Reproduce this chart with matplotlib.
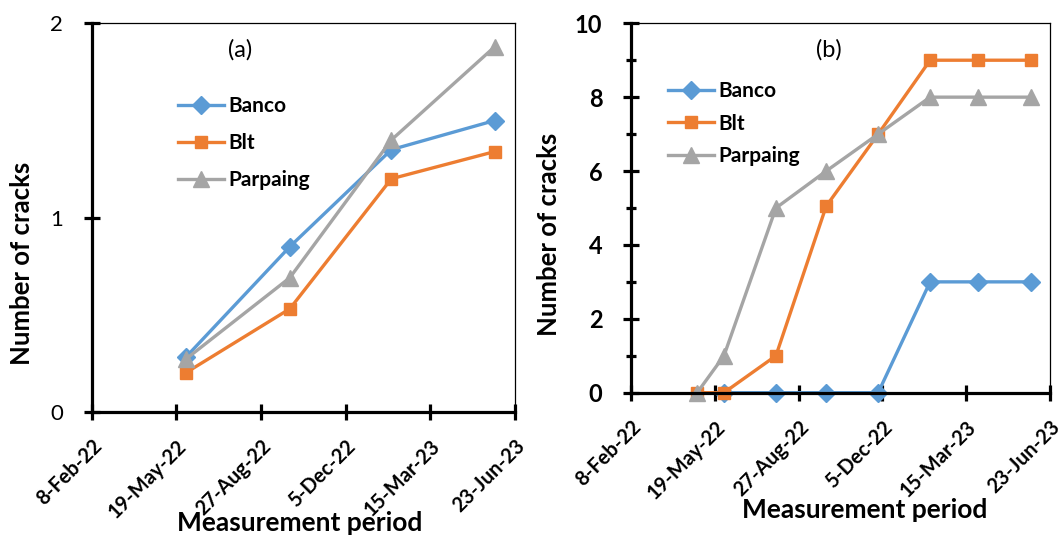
import datetime as dt
import matplotlib
matplotlib.use("Agg")
import matplotlib.pyplot as plt
import matplotlib.dates as mdates
import matplotlib.transforms as mtransforms
from matplotlib.ticker import MultipleLocator, FuncFormatter

plt.rcParams['font.family'] = ['Lato', 'DejaVu Sans']

# panel (a)
dates_a = [dt.date(2022, 5, 30), dt.date(2022, 9, 30), dt.date(2023, 1, 28), dt.date(2023, 5, 30)]
banco_a = [0.28, 0.85, 1.35, 1.50]
blt_a = [0.20, 0.53, 1.20, 1.34]
parpaing_a = [0.27, 0.69, 1.40, 1.88]

# panel (b)
dates_b = [dt.date(2022, 4, 28), dt.date(2022, 5, 30), dt.date(2022, 7, 31), dt.date(2022, 9, 29),
           dt.date(2022, 11, 30), dt.date(2023, 1, 31), dt.date(2023, 3, 29), dt.date(2023, 5, 31)]
banco_b = [None, 0, 0, 0, 0, 3, 3, 3]
blt_b = [0, 0, 1, 5.05, 7, 9, 9, 9]
parpaing_b = [0, 1, 5, 6, 7, 8, 8, 8]

x_start = dt.date(2022, 2, 8)
x_end = dt.date(2023, 6, 23)
tick_step_days = 100

labels = ["Banco", "Blt", "Parpaing"]
colors = ["#5B9BD5", "#ED7D31", "#A5A5A5"]
markers = ["D", "s", "^"]
msizes = [9, 9, 11]


def date_fmt(x, pos):
    d = mdates.num2date(x)
    return f"{d.day}-{d.strftime('%b-%y')}"


def style_axis(ax, bold_y, xlab_pos, ylab_pos):
    ax.set_xlim(x_start, x_end)
    ticks = [x_start + dt.timedelta(days=tick_step_days * i) for i in range(6)]
    ax.set_xticks(ticks)
    ax.xaxis.set_major_formatter(FuncFormatter(date_fmt))
    shift = mtransforms.ScaledTranslation(0.06, 0, ax.figure.dpi_scale_trans)
    for lab in ax.get_xticklabels():
        lab.set_rotation(45)
        lab.set_ha("right")
        lab.set_va("top")
        lab.set_rotation_mode("anchor")
        lab.set_fontweight("bold")
        lab.set_fontsize(14.5)
        lab.set_transform(lab.get_transform() + shift)
    for s in ["left", "bottom"]:
        ax.spines[s].set_linewidth(2.3)
    for s in ["top", "right"]:
        ax.spines[s].set_linewidth(0.9)
    ax.tick_params(axis="both", which="major", direction="inout", length=11, width=2.3)
    ax.tick_params(axis="both", which="minor", direction="inout", length=7, width=2.3)
    ax.tick_params(axis="x", pad=12)
    ax.tick_params(axis="y", pad=15, labelsize=17 if bold_y else 16)
    if bold_y:
        for lab in ax.get_yticklabels():
            lab.set_fontweight("bold")
    ax.set_xlabel("Measurement period", fontsize=19, fontweight="bold", va="center")
    ax.xaxis.set_label_coords(*xlab_pos)
    ax.set_ylabel("Number of cracks", fontsize=18.5, fontweight="bold", va="center")
    ax.yaxis.set_label_coords(*ylab_pos)


fig = plt.figure(figsize=(10.64, 5.35), dpi=100)
ax1 = fig.add_axes([0.0862, 0.2305, 0.3978, 0.7256])
ax2 = fig.add_axes([0.5930, 0.2660, 0.3938, 0.6905])

for vals, lab, c, m, ms in zip([banco_a, blt_a, parpaing_a], labels, colors, markers, msizes):
    ax1.plot(dates_a, vals, color=c, marker=m, markersize=ms, linewidth=2.4, label=lab, clip_on=False)
ax1.set_ylim(0, 2)
ax1.yaxis.set_major_locator(MultipleLocator(1))
style_axis(ax1, False, (0.492, -0.287), (-0.1647, 0.382))
ax1.text(0.35, 0.9325, "(a)", transform=ax1.transAxes, fontsize=17, va="center", ha="center")
ax1.legend(loc="upper left", bbox_to_anchor=(0.204, 0.812), frameon=False,
           prop={"weight": "bold", "size": 15}, handlelength=2.2, handletextpad=0.2,
           labelspacing=0.8, borderpad=0, borderaxespad=0)

for vals, lab, c, m, ms in zip([banco_b, blt_b, parpaing_b], labels, colors, markers, msizes):
    xs = [d for d, v in zip(dates_b, vals) if v is not None]
    ys = [v for v in vals if v is not None]
    ax2.plot(xs, ys, color=c, marker=m, markersize=ms, linewidth=2.4, label=lab, clip_on=False)
ax2.set_ylim(0, 10)
ax2.yaxis.set_major_locator(MultipleLocator(2))
ax2.yaxis.set_minor_locator(MultipleLocator(1))
style_axis(ax2, True, (0.557, -0.318), (-0.196, 0.428))
ax2.text(0.4716, 0.929, "(b)", transform=ax2.transAxes, fontsize=17, va="center", ha="center")
ax2.legend(loc="upper left", bbox_to_anchor=(0.0888, 0.843), frameon=False,
           prop={"weight": "bold", "size": 15}, handlelength=2.2, handletextpad=0.2,
           labelspacing=0.6, borderpad=0, borderaxespad=0)

fig.savefig("out.png", dpi=100)
